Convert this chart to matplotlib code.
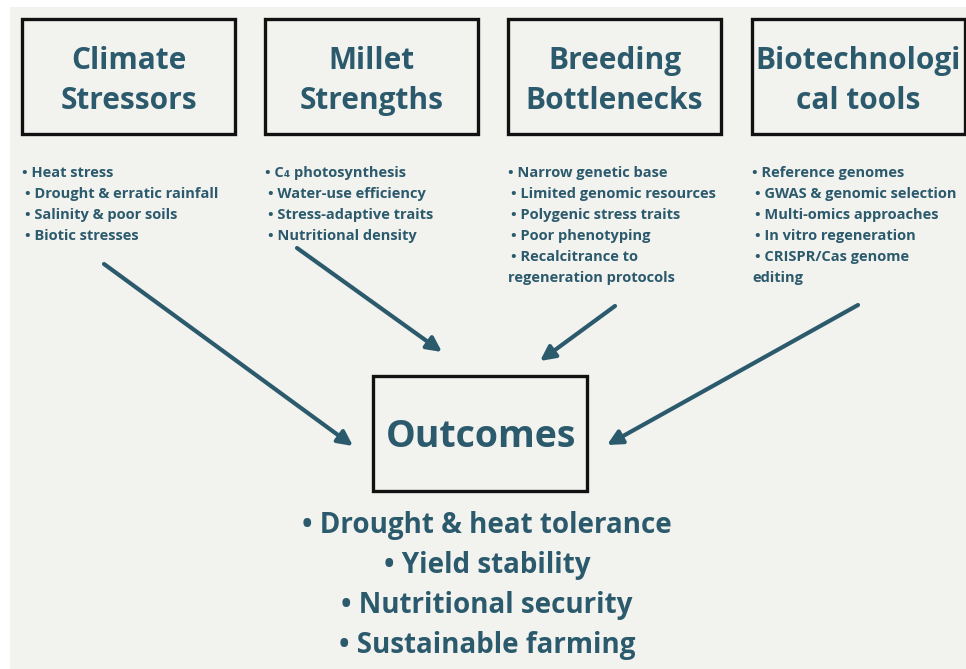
import matplotlib.pyplot as plt
from matplotlib.patches import Rectangle, FancyArrowPatch

# ---- content ----
titles = [["Climate", "Stressors"],
          ["Millet", "Strengths"],
          ["Breeding", "Bottlenecks"],
          ["Biotechnologi", "cal tools"]]

climate_items = ["• Heat stress", "• Drought & erratic rainfall",
                 "• Salinity & poor soils", "• Biotic stresses"]
millet_items = ["• C\u2084 photosynthesis", "• Water-use efficiency",
                "• Stress-adaptive traits", "• Nutritional density"]
breeding_items = ["• Narrow genetic base", "• Limited genomic resources",
                  "• Polygenic stress traits", "• Poor phenotyping",
                  "• Recalcitrance to", "regeneration protocols"]
biotech_items = ["• Reference genomes", "• GWAS & genomic selection",
                 "• Multi-omics approaches", "• In vitro regeneration",
                 "• CRISPR/Cas genome", "editing"]
bullet_lists = [climate_items, millet_items, breeding_items, biotech_items]

outcome_title = "Outcomes"
outcome_items = ["• Drought & heat tolerance", "• Yield stability",
                 "• Nutritional security", "• Sustainable farming"]

# ---- style ----
teal = '#2c5a6d'
bg = '#f2f2ee'
font = ['Open Sans', 'DejaVu Sans']

fig = plt.figure(figsize=(9.66, 6.69), dpi=100, facecolor='white')
ax = fig.add_axes([0, 0, 1, 1])
ax.set_xlim(0, 966)
ax.set_ylim(669, 0)
ax.axis('off')

ax.add_patch(Rectangle((10, 7), 960, 670, facecolor=bg, edgecolor='none', zorder=0))

# top boxes
box_left = [22, 265, 508, 752]
box_w, box_h, box_top = 213, 115, 19
for left, lines in zip(box_left, titles):
    ax.add_patch(Rectangle((left, box_top), box_w, box_h, facecolor='none',
                           edgecolor='#111111', linewidth=2.4, zorder=2))
    cx = left + box_w / 2
    for j, line in enumerate(lines):
        ax.text(cx, 69 + 40 * j, line, ha='center', va='baseline',
                fontsize=21.5, fontweight='bold', family=font, color=teal)

# bullet columns
for left, items in zip(box_left, bullet_lists):
    for j, item in enumerate(items):
        indent = 0 if (j == 0 or not item.startswith('•')) else 3
        ax.text(left + indent, 177 + 21 * j, item, ha='left', va='baseline',
                fontsize=10.5, fontweight='bold', family=font, color=teal)

# outcome box
ax.add_patch(Rectangle((373, 376), 214, 115, facecolor='none',
                       edgecolor='#111111', linewidth=2.4, zorder=2))
ax.text(481, 447, outcome_title, ha='center', va='baseline',
        fontsize=27, fontweight='bold', family=font, color=teal)
for j, item in enumerate(outcome_items):
    ax.text(487, 533 + 40 * j, item, ha='center', va='baseline',
            fontsize=20, fontweight='bold', family=font, color=teal)

# arrows from each column into the outcome box
arrow_starts = [(104, 264), (297, 248), (615, 306), (858, 305)]
arrow_ends = [(353, 446), (442, 352), (540, 361), (607, 445)]
for (x0, y0), (x1, y1) in zip(arrow_starts, arrow_ends):
    ax.add_patch(FancyArrowPatch((x0, y0), (x1, y1), arrowstyle='-|>',
                                 mutation_scale=22, linewidth=3,
                                 color=teal, shrinkA=0, shrinkB=0, zorder=3))

fig.savefig('out.png', dpi=100, facecolor=fig.get_facecolor())
